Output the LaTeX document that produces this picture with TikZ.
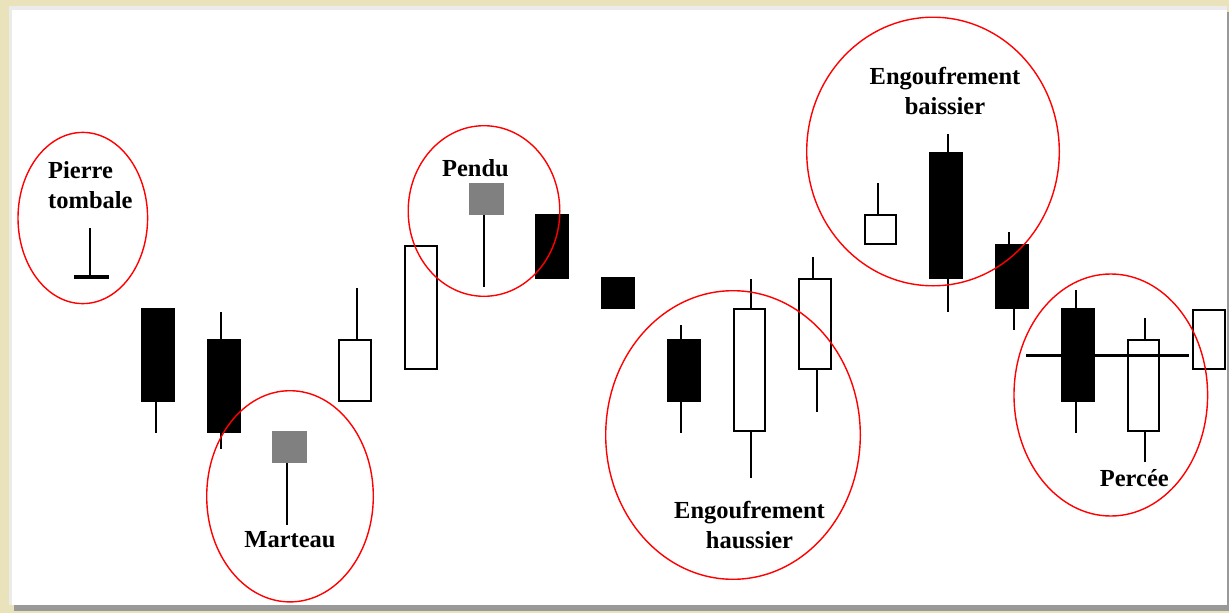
\documentclass[tikz,border=0pt]{standalone}
\usepackage{fontspec}
\setmainfont{Liberation Serif}
\definecolor{beige}{RGB}{233,226,186}
\definecolor{ringred}{RGB}{255,0,0}
\def\px{1pt}
\tikzstyle{blackbody}=[draw=black,fill=black,line width=2pt]
\tikzstyle{whitebody}=[draw=black,fill=white,line width=2pt]
\tikzstyle{graybody}=[fill=black!50]
\tikzstyle{wick}=[draw=black,line width=2pt]
\tikzstyle{bar}=[draw=black,line width=3.3pt]
\tikzstyle{ring}=[draw=ringred,line width=1.4pt]
\tikzstyle{patlabel}=[font=\bfseries\fontsize{24.5}{30}\selectfont,inner sep=0pt,align=center]

\begin{document}
\begin{tikzpicture}[x=\px,y=-\px]
       \useasboundingbox (0,0) rectangle (1229,613);
       \fill[beige] (0,0) rectangle (1229,613);
       \fill[black!40] (14,12) rectangle (1229,611);
       \fill[black!8] (9,6) rectangle (1227,605);
       \fill[white] (12,10) rectangle (1227,605);

       % wicks
       \foreach \x/\ya/\yb in {156/401/433, 221/312/449, 357/288/340, 681/325/433, 751/279/478, 813/257/278, 817/370/412, 878/183/215, 948/134/312, 1009/232/245, 1014/309/330, 1076/290/433, 1145/318/462, 484/215/287, 287/463/525, 90/228/277} {
           \draw[wick] (\x,\ya) -- (\x,\yb);
       }

       % bodies
       \foreach \xa/\ya/\xb/\yb in {141.7/309/174/401, 207.7/340/239.7/432, 535.7/214.7/568.3/278, 601.7/278.3/634/308.3, 667.7/340/699.7/401, 930/153/962.3/277.7, 995.7/245.3/1028/308.3, 1061.7/309.3/1094/400.7} {
           \draw[blackbody] (\xa,\ya) rectangle (\xb,\yb);
       }
       \foreach \xa/\ya/\xb/\yb in {339.3/340.3/370.7/400.7, 405/246/436.7/369, 733.7/309.3/764.7/431.3, 799.3/278.7/830.7/369.3, 865/215/896.3/244, 1127.7/340.3/1159/431.3, 1193.3/309.7/1224.7/369} {
           \draw[whitebody] (\xa,\ya) rectangle (\xb,\yb);
       }
       \fill[graybody] (469,182.7) rectangle (503.7,215);
       \fill[graybody] (271.7,431) rectangle (306.7,463.3);

       \draw[bar] (74,277) -- (109,277);
       \draw[bar] (1026,355.3) -- (1189,355.3);

       % circles
       \draw[ring] (82.8,218) ellipse [x radius=64.8pt, y radius=85.6pt];
       \draw[ring] (290,496.3) ellipse [x radius=83.3pt, y radius=105.6pt];
       \draw[ring] (484,211) ellipse [x radius=75.8pt, y radius=85.3pt];
       \draw[ring] (733,435) ellipse [x radius=127.3pt, y radius=144.3pt];
       \draw[ring] (933,151.5) ellipse [x radius=126.3pt, y radius=134.3pt];
       \draw[ring] (1110.8,395) ellipse [x radius=96.8pt, y radius=121pt];

       \node[patlabel,align=left,anchor=base west] (pierre) at (48,208) {Pierre\\tombale};
       \node[patlabel,anchor=base] (pendu) at (475.5,176) {Pendu};
       \node[patlabel,anchor=base] (marteau) at (290,547.7) {Marteau};
       \node[patlabel,anchor=base] (haussier) at (749.5,548) {Engoufrement\\haussier};
       \node[patlabel,anchor=base] (baissier) at (945,114) {Engoufrement\\baissier};
       \node[patlabel,anchor=base] (percee) at (1134.3,486.7) {Percée};
\end{tikzpicture}
\end{document}
